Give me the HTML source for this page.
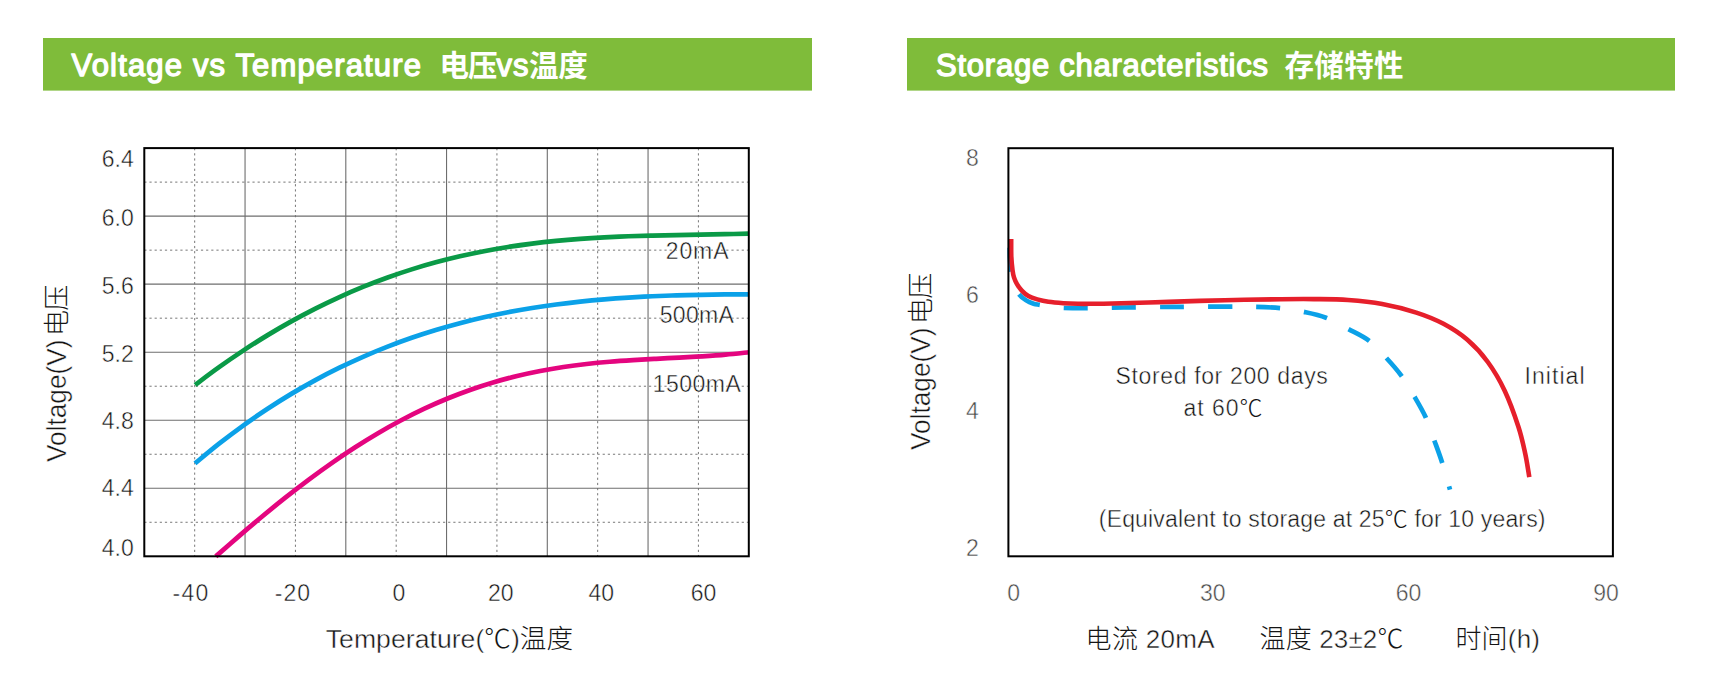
<!DOCTYPE html>
<html lang="zh"><head><meta charset="utf-8"><title>Voltage vs Temperature / Storage characteristics</title>
<style>html,body{margin:0;padding:0;background:#fff;}body{width:1709px;height:675px;overflow:hidden;position:relative;font-family:"Liberation Sans", "Noto Sans CJK SC", sans-serif;}svg{position:absolute;left:0;top:0;display:block}text{font-family:"Liberation Sans", "Noto Sans CJK SC", sans-serif;}.t{font-size:23px;fill:#151515}.t2{font-size:23px;fill:#484848}.ax{font-size:26px;fill:#151515}.ay{font-size:27.8px;fill:#151515}.t,.t2,.ax,.ay{stroke:#fff;stroke-width:0.45px;paint-order:fill stroke}.cj{stroke-width:0}.h{font-size:31px;font-weight:normal;fill:#fff;stroke:#fff;stroke-width:1.35px;stroke-linejoin:round}.hc{font-size:29.5px;font-weight:bold;stroke-width:0}.cj{font-weight:300}</style></head><body>
<svg width="1709" height="675" viewBox="0 0 1709 675">
<rect x="43" y="38" width="769" height="52.6" fill="#7FBC3A"/>
<rect x="907" y="38" width="768" height="52.6" fill="#7FBC3A"/>
<text class="h" x="71.6" y="76.0" textLength="349.4" lengthAdjust="spacing">Voltage vs Temperature</text>
<text class="h hc" x="439.6" y="75.7" textLength="57.8" lengthAdjust="spacing">电压</text>
<text class="h" x="496.4" y="76.0" textLength="32.2" lengthAdjust="spacing">vs</text>
<text class="h hc" x="529.0" y="75.7" textLength="58.8" lengthAdjust="spacing">温度</text>
<text class="h" x="936.0" y="76.0" textLength="332.0" lengthAdjust="spacing">Storage characteristics</text>
<text class="h hc" x="1284.4" y="75.7" textLength="119.2" lengthAdjust="spacing">存储特性</text>
<style>.gs{stroke:#6e6e6e;stroke-width:1.1}.gd{stroke:#4a4a4a;stroke-width:0.75;stroke-dasharray:2.2 2.95}</style>
<g><line x1="194.68" y1="148.10" x2="194.68" y2="556.30" class="gd"/><line x1="245.05" y1="148.10" x2="245.05" y2="556.30" class="gs"/><line x1="295.43" y1="148.10" x2="295.43" y2="556.30" class="gd"/><line x1="345.80" y1="148.10" x2="345.80" y2="556.30" class="gs"/><line x1="396.18" y1="148.10" x2="396.18" y2="556.30" class="gd"/><line x1="446.55" y1="148.10" x2="446.55" y2="556.30" class="gs"/><line x1="496.93" y1="148.10" x2="496.93" y2="556.30" class="gd"/><line x1="547.30" y1="148.10" x2="547.30" y2="556.30" class="gs"/><line x1="597.67" y1="148.10" x2="597.67" y2="556.30" class="gd"/><line x1="648.05" y1="148.10" x2="648.05" y2="556.30" class="gs"/><line x1="698.42" y1="148.10" x2="698.42" y2="556.30" class="gd"/><line x1="144.30" y1="182.12" x2="748.80" y2="182.12" class="gd"/><line x1="144.30" y1="216.13" x2="748.80" y2="216.13" class="gs"/><line x1="144.30" y1="250.15" x2="748.80" y2="250.15" class="gd"/><line x1="144.30" y1="284.17" x2="748.80" y2="284.17" class="gs"/><line x1="144.30" y1="318.18" x2="748.80" y2="318.18" class="gd"/><line x1="144.30" y1="352.20" x2="748.80" y2="352.20" class="gs"/><line x1="144.30" y1="386.22" x2="748.80" y2="386.22" class="gd"/><line x1="144.30" y1="420.23" x2="748.80" y2="420.23" class="gs"/><line x1="144.30" y1="454.25" x2="748.80" y2="454.25" class="gd"/><line x1="144.30" y1="488.27" x2="748.80" y2="488.27" class="gs"/><line x1="144.30" y1="522.28" x2="748.80" y2="522.28" class="gd"/></g>
<g fill="none" stroke-width="4.7" stroke-linecap="butt" stroke-linejoin="round">
<path d="M195.00 384.97 C199.01 382.00 211.05 372.89 219.08 367.17 C227.10 361.45 235.13 355.94 243.16 350.64 C251.18 345.34 259.21 340.26 267.23 335.38 C275.26 330.50 283.29 325.83 291.31 321.37 C299.34 316.91 307.37 312.66 315.39 308.60 C323.42 304.55 331.44 300.70 339.47 297.05 C347.50 293.40 355.52 289.95 363.55 286.69 C371.57 283.42 379.60 280.36 387.63 277.47 C395.65 274.59 403.68 271.89 411.70 269.37 C419.73 266.85 427.76 264.51 435.78 262.33 C443.81 260.15 451.83 258.15 459.86 256.29 C467.89 254.44 475.91 252.75 483.94 251.20 C491.97 249.65 499.99 248.26 508.02 246.99 C516.04 245.72 524.07 244.59 532.10 243.58 C540.12 242.56 548.15 241.68 556.17 240.89 C564.20 240.10 572.23 239.43 580.25 238.84 C588.28 238.24 596.30 237.76 604.33 237.33 C612.36 236.90 620.38 236.56 628.41 236.26 C636.43 235.96 644.46 235.74 652.49 235.54 C660.51 235.33 668.54 235.18 676.57 235.03 C684.59 234.88 692.62 234.77 700.64 234.63 C708.67 234.50 716.70 234.38 724.72 234.22 C732.75 234.05 744.79 233.74 748.80 233.65" stroke="#0a9a47"/>
<path d="M195.00 463.44 C199.01 460.15 211.05 450.02 219.08 443.71 C227.10 437.40 235.13 431.37 243.16 425.58 C251.18 419.79 259.21 414.27 267.23 408.99 C275.26 403.70 283.29 398.67 291.31 393.86 C299.34 389.05 307.37 384.48 315.39 380.12 C323.42 375.77 331.44 371.64 339.47 367.71 C347.50 363.79 355.52 360.08 363.55 356.56 C371.57 353.04 379.60 349.73 387.63 346.60 C395.65 343.47 403.68 340.53 411.70 337.76 C419.73 334.99 427.76 332.40 435.78 329.97 C443.81 327.54 451.83 325.28 459.86 323.17 C467.89 321.05 475.91 319.10 483.94 317.28 C491.97 315.47 499.99 313.80 508.02 312.25 C516.04 310.71 524.07 309.30 532.10 308.01 C540.12 306.71 548.15 305.55 556.17 304.48 C564.20 303.42 572.23 302.47 580.25 301.61 C588.28 300.75 596.30 300.00 604.33 299.33 C612.36 298.65 620.38 298.08 628.41 297.57 C636.43 297.06 644.46 296.63 652.49 296.26 C660.51 295.90 668.54 295.60 676.57 295.36 C684.59 295.11 692.62 294.93 700.64 294.78 C708.67 294.63 716.70 294.53 724.72 294.46 C732.75 294.39 744.79 294.37 748.80 294.35" stroke="#0ba1e8"/>
<path d="M215.80 556.39 C219.66 553.01 231.25 542.79 238.97 536.14 C246.70 529.49 254.42 522.92 262.15 516.51 C269.87 510.11 277.60 503.80 285.32 497.69 C293.05 491.58 300.77 485.60 308.50 479.83 C316.22 474.06 323.94 468.45 331.67 463.06 C339.39 457.67 347.12 452.46 354.84 447.49 C362.57 442.51 370.29 437.74 378.02 433.20 C385.74 428.66 393.47 424.34 401.19 420.26 C408.92 416.18 416.64 412.32 424.37 408.69 C432.09 405.07 439.81 401.68 447.54 398.52 C455.26 395.35 462.99 392.42 470.71 389.71 C478.44 387.00 486.16 384.52 493.89 382.24 C501.61 379.96 509.34 377.90 517.06 376.03 C524.79 374.16 532.51 372.50 540.23 371.01 C547.96 369.51 555.68 368.21 563.41 367.05 C571.13 365.89 578.86 364.91 586.58 364.03 C594.31 363.15 602.03 362.42 609.76 361.77 C617.48 361.11 625.21 360.59 632.93 360.10 C640.66 359.60 648.38 359.21 656.10 358.79 C663.83 358.38 671.55 358.04 679.28 357.63 C687.00 357.22 694.73 356.84 702.45 356.34 C710.18 355.84 717.90 355.33 725.63 354.64 C733.35 353.96 744.94 352.63 748.80 352.23" stroke="#e4057f"/>
</g>
<rect x="144.30" y="148.10" width="604.50" height="408.20" fill="none" stroke="#000" stroke-width="2"/>
<text class="t" x="133.8" y="166.5" text-anchor="end">6.4</text>
<text class="t" x="133.8" y="226.0" text-anchor="end">6.0</text>
<text class="t" x="133.8" y="293.9" text-anchor="end">5.6</text>
<text class="t" x="133.8" y="362.0" text-anchor="end">5.2</text>
<text class="t" x="133.8" y="428.5" text-anchor="end">4.8</text>
<text class="t" x="133.8" y="495.5" text-anchor="end">4.4</text>
<text class="t" x="133.8" y="555.6" text-anchor="end">4.0</text>
<text class="t" x="399.0" y="601.2" text-anchor="middle">0</text>
<text class="t" x="500.7" y="601.2" text-anchor="middle">20</text>
<text class="t" x="601.3" y="601.2" text-anchor="middle">40</text>
<text class="t" x="703.6" y="601.2" text-anchor="middle">60</text>
<text class="t" x="172.6" y="601.2" textLength="35.6" lengthAdjust="spacing">-40</text>
<text class="t" x="274.7" y="601.2" textLength="35.4" lengthAdjust="spacing">-20</text>
<text class="t" x="665.7" y="259.2" textLength="62.8" lengthAdjust="spacing">20mA</text>
<text class="t" x="659.8" y="322.7" textLength="74.0" lengthAdjust="spacing">500mA</text>
<text class="t" x="652.7" y="391.7" textLength="88.1" lengthAdjust="spacing">1500mA</text>
<text class="ax" x="325.8" y="647.7" textLength="247.2" lengthAdjust="spacing" style="font-size:26.6px">Temperature(<tspan class="cj">℃</tspan>)<tspan class="cj">温度</tspan></text>
<g transform="translate(65.9 461.9) rotate(-90)"><text class="ay" x="0" y="0" textLength="122.3" lengthAdjust="spacingAndGlyphs">Voltage(V)</text><text class="ax cj" x="126.0" y="-0.4" textLength="51.2" lengthAdjust="spacing">电压</text></g>
<g fill="none" stroke-linejoin="round">
<path d="M1009.70 241.00 C1009.73 243.83 1009.65 252.83 1009.90 258.00 C1010.15 263.17 1010.47 267.50 1011.20 272.00 C1011.93 276.50 1013.00 281.30 1014.30 285.00 C1015.60 288.70 1017.02 291.63 1019.00 294.20 C1020.98 296.77 1023.77 298.82 1026.20 300.40 C1028.63 301.98 1031.28 302.95 1033.60 303.70 C1035.92 304.45 1037.03 304.38 1040.10 304.90 C1043.17 305.42 1048.03 306.28 1052.00 306.80 C1055.97 307.32 1057.90 307.78 1063.90 308.00 C1069.90 308.22 1078.05 308.18 1088.00 308.10 C1097.95 308.02 1109.55 307.70 1123.60 307.50 C1137.65 307.30 1156.23 307.03 1172.30 306.90 C1188.37 306.77 1206.05 306.70 1220.00 306.70 C1233.95 306.70 1246.00 306.67 1256.00 306.90 C1266.00 307.13 1272.03 307.27 1280.00 308.10 C1287.97 308.93 1296.13 310.30 1303.80 311.90 C1311.47 313.50 1318.62 314.87 1326.00 317.70 C1333.38 320.53 1340.90 325.05 1348.10 328.90 C1355.30 332.75 1362.83 335.97 1369.20 340.80 C1375.57 345.63 1380.95 352.10 1386.30 357.90 C1391.65 363.70 1396.60 369.13 1401.30 375.60 C1406.00 382.07 1410.42 389.72 1414.50 396.70 C1418.58 403.68 1422.55 410.35 1425.80 417.50 C1429.05 424.65 1431.28 432.10 1434.00 439.60 C1436.72 447.10 1439.43 454.17 1442.10 462.50 C1444.77 470.83 1448.68 485.08 1450.00 489.60" stroke="#0ba1e8" stroke-width="4.7" stroke-dasharray="24.00 24.10" stroke-dashoffset="41.37"/>
<path d="M1011.20 239.10 C1011.22 242.03 1011.08 251.55 1011.30 256.70 C1011.52 261.85 1012.05 266.55 1012.50 270.00 C1012.95 273.45 1013.25 275.05 1014.00 277.40 C1014.75 279.75 1015.70 281.90 1017.00 284.10 C1018.30 286.30 1019.90 288.60 1021.80 290.60 C1023.70 292.60 1025.82 294.63 1028.40 296.10 C1030.98 297.57 1033.97 298.45 1037.30 299.40 C1040.63 300.35 1044.07 301.17 1048.40 301.80 C1052.73 302.43 1058.37 302.87 1063.30 303.20 C1068.23 303.53 1073.22 303.70 1078.00 303.80 C1082.78 303.90 1086.27 303.85 1092.00 303.80 C1097.73 303.75 1099.65 303.82 1112.40 303.50 C1125.15 303.18 1149.78 302.45 1168.50 301.90 C1187.22 301.35 1205.97 300.65 1224.70 300.20 C1243.43 299.75 1266.02 299.38 1280.90 299.20 C1295.78 299.02 1302.80 298.97 1314.00 299.10 C1325.20 299.23 1336.73 299.18 1348.10 300.00 C1359.47 300.82 1370.83 301.90 1382.20 304.00 C1393.57 306.10 1406.08 309.30 1416.30 312.60 C1426.52 315.90 1434.98 319.27 1443.50 323.80 C1452.02 328.33 1460.02 333.43 1467.40 339.80 C1474.78 346.17 1481.57 353.48 1487.80 362.00 C1494.03 370.52 1499.70 380.12 1504.80 390.90 C1509.90 401.68 1514.98 416.20 1518.40 426.70 C1521.82 437.20 1523.48 445.50 1525.30 453.90 C1527.12 462.30 1528.63 473.23 1529.30 477.10" stroke="#e61f2b" stroke-width="4.6"/>
</g>
<rect x="1008.40" y="148.20" width="604.50" height="408.10" fill="none" stroke="#000" stroke-width="2"/>
<text class="t2" x="972.5" y="165.6" text-anchor="middle">8</text>
<text class="t2" x="972.5" y="303.4" text-anchor="middle">6</text>
<text class="t2" x="972.5" y="419.4" text-anchor="middle">4</text>
<text class="t2" x="972.5" y="555.6" text-anchor="middle">2</text>
<text class="t2" x="1013.7" y="601" text-anchor="middle">0</text>
<text class="t2" x="1212.8" y="601" text-anchor="middle">30</text>
<text class="t2" x="1408.5" y="601" text-anchor="middle">60</text>
<text class="t2" x="1606.1" y="601" text-anchor="middle">90</text>
<text class="t" x="1115.5" y="383.9" textLength="212.3" lengthAdjust="spacing">Stored for 200 days</text>
<text class="t" x="1183.6" y="415.8" textLength="78.9" lengthAdjust="spacing">at 60<tspan class="cj">℃</tspan></text>
<text class="t" x="1524.6" y="383.7" textLength="59.9" lengthAdjust="spacing">Initial</text>
<text class="t" x="1098.8" y="527.0" textLength="446.7" lengthAdjust="spacing">(Equivalent to storage at 25<tspan class="cj">℃</tspan> for 10 years)</text>
<text class="ax" x="1085.6" y="648.0" textLength="128.9" lengthAdjust="spacing"><tspan class="cj">电流</tspan> 20mA</text>
<text class="ax" x="1259.5" y="648.0" textLength="144.0" lengthAdjust="spacing"><tspan class="cj">温度</tspan> 23±2<tspan class="cj">℃</tspan></text>
<text class="ax" x="1455.4" y="648.0" textLength="84.6" lengthAdjust="spacing"><tspan class="cj">时间</tspan>(h)</text>
<g transform="translate(930.1 449.9) rotate(-90)"><text class="ay" x="0" y="0" textLength="122.3" lengthAdjust="spacingAndGlyphs">Voltage(V)</text><text class="ax cj" x="126.0" y="-0.4" textLength="51.2" lengthAdjust="spacing">电压</text></g>
</svg></body></html>
